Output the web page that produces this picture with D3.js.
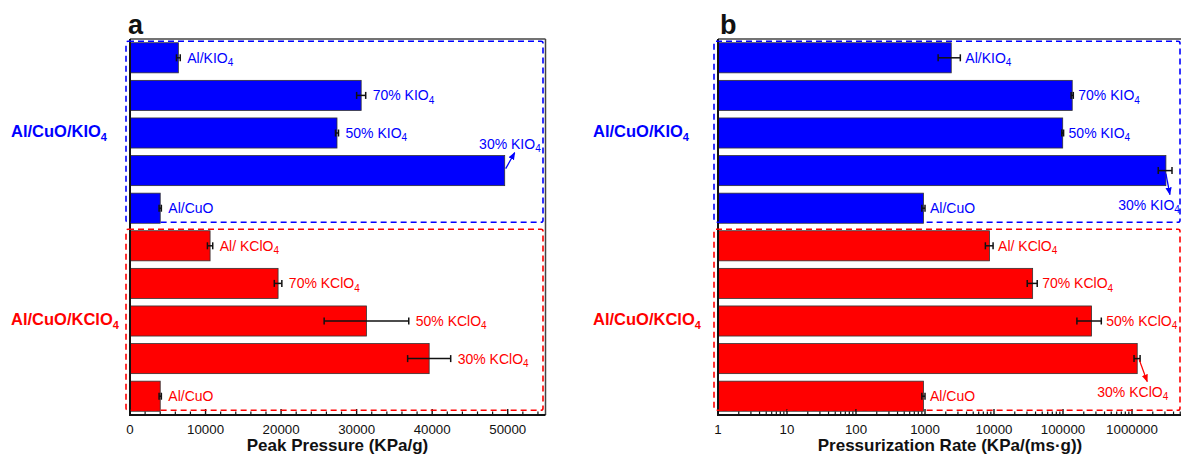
<!DOCTYPE html>
<html>
<head>
<meta charset="utf-8">
<script src="https://cdn.jsdelivr.net/npm/d3@7"></script>
<style>
  body { margin: 0; background: #fff; }
  text { font-family: "Liberation Sans", Arial, sans-serif; }
</style>
</head>
<body>
<script>
const width = 1181;
const height = 456;

// group names and sample names (top to bottom inside each group)
const groupNames = ["Al/CuO/KIO4", "Al/CuO/KClO4"];
const kio4Samples = ["Al/KIO4", "70% KIO4", "50% KIO4", "30% KIO4", "Al/CuO"];
const kclo4Samples = ["Al/ KClO4", "70% KClO4", "50% KClO4", "30% KClO4", "Al/CuO"];

// peak pressure, KPa/g
const peakKIO4 = [6400, 30600, 27400, 49600, 4000];
const peakKIO4Err = [250, 600, 200, 0, 150];
const peakKClO4 = [10600, 19600, 31300, 39600, 4000];
const peakKClO4Err = [350, 500, 5600, 2850, 150];

// pressurization rate, KPa/(ms·g)
const rateKIO4 = [2400, 136000, 99000, 3100000, 950];
const rateKIO4Err = [850, 5000, 3000, 700000, 50];
const rateKClO4 = [8600, 36300, 259000, 1190000, 950];
const rateKClO4Err = [1100, 6000, 100000, 120000, 50];

const peakTicks = [0, 10000, 20000, 30000, 40000, 50000];
const rateTicks = [1, 10, 100, 1000, 10000, 100000, 1000000];

const colors = ["#0000ff", "#ff0000"];

const svg = d3.select("body")
  .append("svg")
  .attr("width", width)
  .attr("height", height);

// arrow markers
const defs = svg.append("defs");
colors.forEach((c, i) => {
  defs.append("marker")
    .attr("id", "arrow" + i)
    .attr("viewBox", "0 0 10 10")
    .attr("refX", 9)
    .attr("refY", 5)
    .attr("markerWidth", 6)
    .attr("markerHeight", 6)
    .attr("orient", "auto")
    .append("path")
    .attr("d", "M0,1 L10,5 L0,9 Z")
    .attr("fill", c);
});

function makeRows(v1, e1, v2, e2) {
  const rows = [];
  kio4Samples.forEach((s, i) => rows.push({ name: s, g: 0, v: v1[i], e: e1[i] }));
  kclo4Samples.forEach((s, i) => rows.push({ name: s, g: 1, v: v2[i], e: e2[i] }));
  return rows;
}

// text with subscript 4 after "O"
function subText(sel, str, subSize) {
  const m = str.match(/^(.*O)(4)$/);
  if (m) {
    sel.append("tspan").text(m[1]);
    sel.append("tspan").attr("dy", "0.32em").attr("font-size", subSize).text(m[2]);
  } else {
    sel.text(str);
  }
}

const plotTop = 39;
const plotBottom = 415;

function drawPanel(p) {
  const g = svg.append("g");
  const x = p.x;
  const y = d3.scaleBand()
    .domain(d3.range(p.rows.length))
    .range([plotTop, plotBottom])
    .paddingInner(0.2)
    .paddingOuter(0.1);
  const bw = y.bandwidth();
  const left = x.range()[0];

  // bars
  g.selectAll("rect.bar")
    .data(p.rows)
    .enter()
    .append("rect")
    .attr("class", "bar")
    .attr("x", left)
    .attr("y", (d, i) => y(i))
    .attr("width", d => x(d.v) - left)
    .attr("height", bw)
    .attr("fill", d => colors[d.g])
    .attr("stroke", "#333")
    .attr("stroke-width", 0.8);

  // error bars
  const eb = g.selectAll("g.err")
    .data(p.rows.map((d, i) => ({ ...d, i })).filter(d => d.e > 0))
    .enter()
    .append("g")
    .attr("stroke", "#111")
    .attr("stroke-width", 1.5);
  eb.append("line")
    .attr("x1", d => x(d.v - d.e)).attr("x2", d => x(d.v + d.e))
    .attr("y1", d => y(d.i) + bw / 2).attr("y2", d => y(d.i) + bw / 2);
  eb.append("line")
    .attr("x1", d => x(d.v - d.e)).attr("x2", d => x(d.v - d.e))
    .attr("y1", d => y(d.i) + bw / 2 - 3.5).attr("y2", d => y(d.i) + bw / 2 + 3.5);
  eb.append("line")
    .attr("x1", d => x(d.v + d.e)).attr("x2", d => x(d.v + d.e))
    .attr("y1", d => y(d.i) + bw / 2 - 3.5).attr("y2", d => y(d.i) + bw / 2 + 3.5);

  // bar labels
  p.rows.forEach((d, i) => {
    const cy = y(i) + bw / 2;
    const xe = x(d.v);
    const c = p.callouts[i];
    const t = g.append("text")
      .attr("font-size", 14)
      .attr("fill", colors[d.g]);
    if (c) {
      t.attr("x", xe + c.tx).attr("y", cy + c.ty).attr("text-anchor", "end");
      g.append("line")
        .attr("x1", xe + c.ax1).attr("y1", cy + c.ay1)
        .attr("x2", xe + c.ax2).attr("y2", cy + c.ay2)
        .attr("stroke", colors[d.g])
        .attr("stroke-width", 1.3)
        .attr("marker-end", "url(#arrow" + d.g + ")");
    } else {
      t.attr("x", x(d.v + d.e) + p.gap).attr("y", cy + 5);
    }
    subText(t, d.name, 10);
  });

  // frame
  g.append("line")
    .attr("x1", left).attr("x2", p.frameRight)
    .attr("y1", plotTop).attr("y2", plotTop)
    .attr("stroke", "#444").attr("stroke-width", 1.5);
  g.append("line")
    .attr("x1", p.frameRight).attr("x2", p.frameRight)
    .attr("y1", plotTop).attr("y2", plotBottom)
    .attr("stroke", "#444").attr("stroke-width", 1.5);
  g.append("line")
    .attr("x1", left).attr("x2", left)
    .attr("y1", plotTop).attr("y2", plotBottom + 1)
    .attr("stroke", "#111").attr("stroke-width", 2);
  g.append("line")
    .attr("x1", left - 1).attr("x2", p.frameRight)
    .attr("y1", plotBottom).attr("y2", plotBottom)
    .attr("stroke", "#111").attr("stroke-width", 2);

  // ticks (inward)
  g.selectAll("line.minor")
    .data(p.minorTicks)
    .enter()
    .append("line")
    .attr("x1", d => x(d)).attr("x2", d => x(d))
    .attr("y1", plotBottom).attr("y2", plotBottom - 3.5)
    .attr("stroke", "#111").attr("stroke-width", 1.2);
  g.selectAll("line.major")
    .data(p.ticks)
    .enter()
    .append("line")
    .attr("x1", d => x(d)).attr("x2", d => x(d))
    .attr("y1", plotBottom).attr("y2", plotBottom - 6)
    .attr("stroke", "#111").attr("stroke-width", 1.4);
  g.selectAll("text.tick")
    .data(p.ticks)
    .enter()
    .append("text")
    .attr("x", d => x(d))
    .attr("y", 434)
    .attr("text-anchor", "middle")
    .attr("font-size", 13.3)
    .attr("fill", "#111")
    .text(d => d);

  // dashed group boxes
  [0, 1].forEach(gi => {
    const idx = p.rows.map((d, i) => i).filter(i => p.rows[i].g === gi);
    const y0 = y(idx[0]) - 1.5;
    const y1 = y(idx[idx.length - 1]) + bw - 1;
    g.append("rect")
      .attr("x", left - 4)
      .attr("y", y0)
      .attr("width", p.boxRight - left + 4)
      .attr("height", y1 - y0)
      .attr("rx", 2)
      .attr("fill", "none")
      .attr("stroke", colors[gi])
      .attr("stroke-width", 1.6)
      .attr("stroke-dasharray", "6,4");
    const gt = g.append("text")
      .attr("x", p.groupX)
      .attr("y", (y0 + y1) / 2 + 5.5)
      .attr("font-size", 16.5)
      .attr("font-weight", "bold")
      .attr("fill", colors[gi]);
    subText(gt, groupNames[gi], 11);
  });

  // titles
  g.append("text")
    .attr("x", p.titleX)
    .attr("y", 451)
    .attr("text-anchor", "middle")
    .attr("font-size", 17)
    .attr("font-weight", "bold")
    .attr("fill", "#111")
    .text(p.title);
  g.append("text")
    .attr("x", p.letterX)
    .attr("y", 34)
    .attr("font-size", 27)
    .attr("font-weight", "bold")
    .attr("fill", "#111")
    .text(p.letter);
}

// panel a
const xPeak = d3.scaleLinear().domain([0, 55000]).range([130, 545.5]);
drawPanel({
  x: xPeak,
  rows: makeRows(peakKIO4, peakKIO4Err, peakKClO4, peakKClO4Err),
  ticks: peakTicks,
  minorTicks: d3.range(0, 55001, 2000).filter(d => d % 10000 !== 0),
  frameRight: 545.5,
  boxRight: 543,
  gap: 7,
  groupX: 11,
  titleX: 337.5,
  title: "Peak Pressure (KPa/g)",
  letter: "a",
  letterX: 128,
  callouts: { 3: { tx: 36, ty: -22, ax1: 1, ay1: -2, ax2: 10, ay2: -18 } }
});

// panel b
const xRate = d3.scaleLog().domain([1, 1e7]).range([718, 718 + 7 * 69]);
const rateMinor = [];
for (let dec = 1; dec <= 1e6; dec *= 10) {
  for (let k = 2; k <= 9; k++) rateMinor.push(dec * k);
}
drawPanel({
  x: xRate,
  rows: makeRows(rateKIO4, rateKIO4Err, rateKClO4, rateKClO4Err),
  ticks: rateTicks,
  minorTicks: rateMinor,
  frameRight: 1200,
  boxRight: 1180,
  gap: 5,
  groupX: 593,
  titleX: 950,
  title: "Pressurization Rate (KPa/(ms·g))",
  letter: "b",
  letterX: 720,
  callouts: {
    3: { tx: 14, ty: 39.5, ax1: 0, ay1: 3, ax2: 4, ay2: 24 },
    8: { tx: 31, ty: 38.5, ax1: 2, ay1: 1, ax2: 10, ay2: 23 }
  }
});
</script>
</body>
</html>
